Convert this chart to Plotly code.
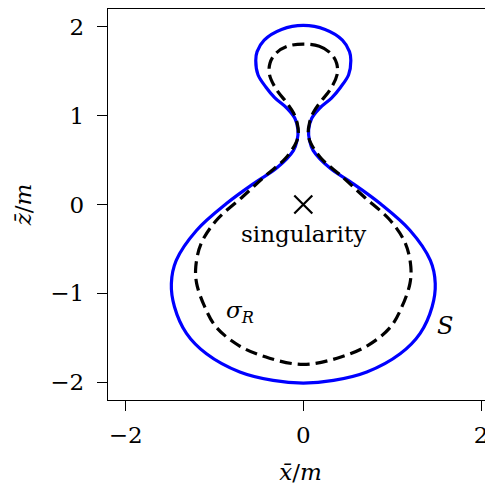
import plotly.graph_objects as go

# outer curve S, clockwise from the top
s_x = [0.0, 0.245, 0.44, 0.52, 0.535, 0.51, 0.42, 0.32, 0.18, 0.095, 0.06, 0.07, 0.11,
       0.30, 0.53, 0.865, 1.20, 1.43, 1.485, 1.45, 1.315, 1.09, 0.715, 0.34, 0.0,
       -0.34, -0.715, -1.09, -1.315, -1.45, -1.485, -1.43, -1.20, -0.865, -0.53, -0.30,
       -0.11, -0.07, -0.06, -0.095, -0.18, -0.32, -0.42, -0.51, -0.535, -0.52, -0.44, -0.245, 0.0]
s_y = [2.015, 1.97, 1.85, 1.72, 1.62, 1.46, 1.32, 1.20, 1.08, 0.97, 0.84, 0.72, 0.61,
       0.41, 0.255, 0.01, -0.29, -0.63, -0.89, -1.15, -1.45, -1.68, -1.885, -1.98, -2.01,
       -1.98, -1.885, -1.68, -1.45, -1.15, -0.89, -0.63, -0.29, 0.01, 0.255, 0.41,
       0.61, 0.72, 0.84, 0.97, 1.08, 1.20, 1.32, 1.46, 1.62, 1.72, 1.85, 1.97, 2.015]

# inner dashed curve sigma_R, clockwise from the top
sig_x = [0.0, 0.18, 0.31, 0.375, 0.38, 0.30, 0.19, 0.11, 0.07, 0.055, 0.08, 0.20, 0.43,
         0.68, 0.98, 1.15, 1.21, 1.20, 1.11, 0.98, 0.72, 0.38, 0.0,
         -0.38, -0.72, -0.98, -1.11, -1.20, -1.21, -1.15, -0.98, -0.68, -0.43, -0.20,
         -0.08, -0.055, -0.07, -0.11, -0.19, -0.30, -0.38, -0.375, -0.31, -0.18, 0.0]
sig_y = [1.805, 1.78, 1.70, 1.59, 1.46, 1.29, 1.15, 1.03, 0.92, 0.80, 0.70, 0.52, 0.32,
         0.09, -0.18, -0.44, -0.70, -0.89, -1.15, -1.38, -1.59, -1.73, -1.80,
         -1.73, -1.59, -1.38, -1.15, -0.89, -0.70, -0.44, -0.18, 0.09, 0.32, 0.52,
         0.70, 0.80, 0.92, 1.03, 1.15, 1.29, 1.46, 1.59, 1.70, 1.78, 1.805]

sing_x = [0.0]
sing_y = [0.0]

y_ticks = [-2, -1, 0, 1, 2]
x_ticks = [-2, 0, 2]

font_family = 'DejaVu Serif'
text_font = dict(family=font_family, size=23, color='black')

fig = go.Figure()
fig.add_trace(go.Scatter(x=s_x, y=s_y, mode='lines', line=dict(color='#0000ff', width=3.2, shape='spline'),
                         showlegend=False))
fig.add_trace(go.Scatter(x=sig_x, y=sig_y, mode='lines',
                         line=dict(color='black', width=3.2, shape='spline', dash='12px,6px'),
                         showlegend=False))
fig.add_trace(go.Scatter(x=sing_x, y=sing_y, mode='markers',
                         marker=dict(symbol='x-thin', size=18, line=dict(color='black', width=2.2)),
                         showlegend=False))

fig.add_annotation(x=0.0, y=-0.33, text='singularity', showarrow=False, font=text_font)
fig.add_annotation(x=-0.71, y=-1.21, text='<i>σ</i><sub><i>R</i></sub>', showarrow=False, font=text_font)
fig.add_annotation(x=1.59, y=-1.37, text='<i>S</i>', showarrow=False,
                   font=dict(family=font_family, size=24, color='black'))

axis_style = dict(showgrid=False, zeroline=False, showline=True, linecolor='black', linewidth=1.3,
                  ticks='outside', ticklen=10, tickwidth=1.3, tickcolor='black', automargin=False,
                  tickfont=text_font)

fig.update_xaxes(range=[-2.198, 2.135], tickvals=x_ticks, mirror=True, ticklabelstandoff=4,
                 title=dict(text='<i>x̄</i>/<i>m</i>', standoff=18, font=text_font),
                 **axis_style)
fig.update_yaxes(range=[-2.2, 2.2], tickvals=y_ticks, ticklabelstandoff=8,
                 title=dict(text='<i>z̄</i>/<i>m</i>', standoff=12, font=text_font),
                 **axis_style)

# the page body adds an 8px offset, so the figure is 8px smaller and shifted margins
fig.update_layout(width=485, height=477, margin=dict(l=100, r=0, t=1, b=85),
                  plot_bgcolor='white', paper_bgcolor='white')

fig.write_html('out.html')
